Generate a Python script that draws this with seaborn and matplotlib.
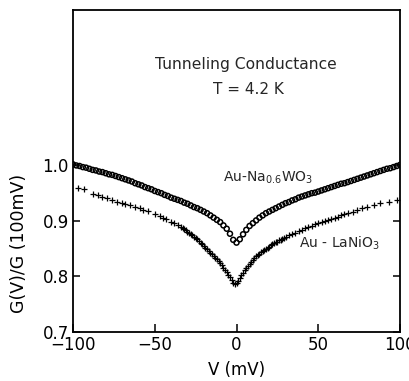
import matplotlib
matplotlib.use("Agg")
import matplotlib.pyplot as plt
import seaborn as sns
import numpy as np
import pandas as pd

# Au-Na0.6WO3 (open circles), V in mV
v_na = [-100, -98, -96, -94, -92, -90, -88, -86, -84, -82, -80, -78, -76, -74, -72,
        -70, -68, -66, -64, -62, -60, -58, -56, -54, -52, -50, -48, -46, -44, -42,
        -40, -38, -36, -34, -32, -30, -28, -26, -24, -22, -20, -18, -16, -14, -12,
        -10, -8, -6, -4, -2, 0, 2, 4, 6, 8, 10, 12, 14, 16, 18,
        20, 22, 24, 26, 28, 30, 32, 34, 36, 38, 40, 42, 44, 46, 48,
        50, 52, 54, 56, 58, 60, 62, 64, 66, 68, 70, 72, 74, 76, 78,
        80, 82, 84, 86, 88, 90, 92, 94, 96, 98, 100]
g_na = [1.002, 1.000, 0.999, 0.997, 0.996, 0.994, 0.992, 0.991, 0.989, 0.988, 0.986, 0.984, 0.983, 0.981, 0.979,
        0.977, 0.975, 0.973, 0.971, 0.968, 0.966, 0.964, 0.961, 0.959, 0.957, 0.954, 0.952, 0.950, 0.947, 0.945,
        0.942, 0.940, 0.938, 0.936, 0.933, 0.931, 0.928, 0.925, 0.923, 0.920, 0.917, 0.914, 0.910, 0.906, 0.902,
        0.898, 0.892, 0.886, 0.877, 0.866, 0.861, 0.867, 0.876, 0.884, 0.891, 0.896, 0.901, 0.906, 0.910, 0.914,
        0.917, 0.920, 0.923, 0.926, 0.929, 0.932, 0.934, 0.937, 0.939, 0.942, 0.944, 0.946, 0.948, 0.950, 0.951,
        0.953, 0.955, 0.957, 0.959, 0.961, 0.963, 0.965, 0.967, 0.968, 0.970, 0.972, 0.974, 0.976, 0.978, 0.980,
        0.982, 0.984, 0.986, 0.988, 0.990, 0.992, 0.994, 0.995, 0.997, 0.999, 1.001]

# Au-LaNiO3 (plus markers)
v_la = [-97, -93, -88, -85, -82, -79, -76, -73, -70, -68, -65, -62, -59, -57, -54,
        -50, -47, -45, -43, -40, -38, -36, -34,
        -33, -32, -31, -30, -29, -28, -27, -26, -25, -24, -23, -22, -21, -20, -19,
        -18, -17, -16, -15, -14, -13, -12, -11, -10, -9, -8, -7, -6, -5, -4,
        -3, -2, -1, 0, 1, 2, 3, 4, 5, 6, 7, 8, 9, 10, 11,
        12, 13, 14, 15, 16, 17, 18, 19, 20, 21, 22, 23, 24, 25, 26,
        27, 28, 29, 30,
        32, 34, 36, 38, 40, 42, 44, 46, 48, 50, 52, 54, 56, 58, 60,
        62, 64, 66, 68, 71, 74, 77, 80, 84, 88, 93, 98]
g_la = [0.960, 0.957, 0.948, 0.946, 0.944, 0.941, 0.938, 0.935, 0.933, 0.931, 0.929, 0.926, 0.923, 0.920, 0.918,
        0.912, 0.909, 0.906, 0.903, 0.899, 0.896, 0.893, 0.889,
        0.887, 0.885, 0.883, 0.881, 0.879, 0.877, 0.874, 0.872, 0.869, 0.867, 0.864, 0.861, 0.858, 0.855, 0.852,
        0.849, 0.846, 0.843, 0.840, 0.837, 0.834, 0.831, 0.827, 0.824, 0.820, 0.816, 0.812, 0.808, 0.803, 0.799,
        0.794, 0.789, 0.787, 0.789, 0.792, 0.797, 0.802, 0.807, 0.811, 0.815, 0.819, 0.823, 0.826, 0.830, 0.833,
        0.836, 0.839, 0.841, 0.844, 0.846, 0.848, 0.850, 0.852, 0.854, 0.856, 0.858, 0.860, 0.862, 0.863, 0.865,
        0.866, 0.868, 0.869, 0.871,
        0.874, 0.877, 0.879, 0.882, 0.884, 0.887, 0.889, 0.891, 0.894, 0.896, 0.898, 0.900, 0.902, 0.904, 0.906,
        0.908, 0.910, 0.912, 0.914, 0.917, 0.920, 0.923, 0.926, 0.929, 0.932, 0.935, 0.938]

x_ticks = [-100, -50, 0, 50, 100]
y_ticks = [0.7, 0.8, 0.9, 1.0]

sns.set_theme(style="ticks")
plt.rcParams['font.family'] = ['DejaVu Sans']

df_na = pd.DataFrame({"V": v_na, "G": g_na})
df_la = pd.DataFrame({"V": v_la, "G": g_la})

fig = plt.figure(figsize=(4.09, 3.81), dpi=100)
ax = fig.add_axes([0.1785, 0.1286, 0.7995, 0.8452])

sns.scatterplot(data=df_na, x="V", y="G", marker="o", s=13, facecolors="none",
                edgecolor="black", linewidth=1.1, ax=ax, zorder=3)
sns.scatterplot(data=df_la, x="V", y="G", marker="+", s=14, color="black",
                linewidth=0.9, ax=ax, zorder=3)

ax.set_xlim(-100, 100)
ax.set_ylim(0.7, 1.28)
ax.set_xticks(x_ticks)
ax.set_xticklabels(["\u2212100", "\u221250", "0", "50", "100"])
ax.set_yticks(y_ticks)
ax.set_yticklabels(["0.7", "0.8", "0.9", "1.0"])
ax.tick_params(axis="both", direction="in", length=5, width=1.1, labelsize=12,
               colors="black", right=True, top=False, pad=3)
ax.tick_params(axis="x", length=6)
for sp in ax.spines.values():
    sp.set_color("black")
    sp.set_linewidth(1.3)

ax.set_xlabel("V (mV)", fontsize=12, labelpad=5, color="black")
ax.set_ylabel("G(V)/G (100mV)", fontsize=12.5, color="black")
ax.yaxis.set_label_coords(-0.138, 0.276)

ax.text(6, 1.181, "Tunneling Conductance", fontsize=11.2, ha="center", va="center")
ax.text(7.5, 1.136, "T = 4.2 K", fontsize=11, ha="center", va="center")
ax.text(-8, 0.977, r"Au-Na$_{0.6}$WO$_3$", fontsize=10, ha="left", va="center")
ax.text(38, 0.86, r"Au - LaNiO$_3$", fontsize=10, ha="left", va="center")

fig.savefig("out.png", dpi=100)
